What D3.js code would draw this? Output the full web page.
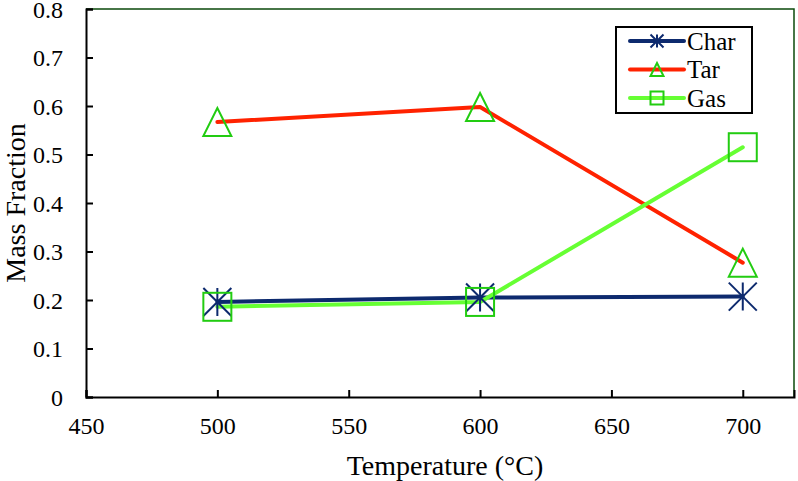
<!DOCTYPE html>
<html>
<head>
<meta charset="utf-8">
<script src="https://cdn.jsdelivr.net/npm/d3@7"></script>
<style>
  body { margin: 0; background: #fff; }
</style>
</head>
<body>
<svg id="chart" width="798" height="481"></svg>
<script>
const temps = [500, 600, 700];
const charVals = [0.196, 0.205, 0.207];
const tarVals = [0.567, 0.598, 0.277];
const gasVals = [0.186, 0.196, 0.515];
const xTicks = [450, 500, 550, 600, 650, 700];
const yTicks = [0, 0.1, 0.2, 0.3, 0.4, 0.5, 0.6, 0.7, 0.8];

const series = [
  { name: 'Char', values: charVals, line: '#0d2a6e', marker: 'star', mcolor: '#0d2a6e' },
  { name: 'Tar', values: tarVals, line: '#ff2200', marker: 'triangle', mcolor: '#22cc11' },
  { name: 'Gas', values: gasVals, line: '#66ff33', marker: 'square', mcolor: '#22cc11' },
];

const FONT = "'Liberation Serif', 'Times New Roman', serif";

const svg = d3.select('#chart').attr('font-family', FONT);
const plotL = 86, plotR = 794, plotT = 9, plotB = 397;

const x = d3.scaleLinear().domain([450, 719.5]).range([plotL, plotR]);
const y = d3.scaleLinear().domain([0, 0.8]).range([plotB, plotT]);

// plot frame (top/right)
svg.append('path')
  .attr('d', `M${plotL},${plotT}H${plotR}V${plotB}`)
  .attr('fill', 'none')
  .attr('stroke', '#0b4a0b')
  .attr('stroke-width', 1.5);

// axes
const yAxis = d3.axisLeft(y).tickValues(yTicks).tickSize(-7).tickPadding(23)
  .tickFormat(d => d === 0 ? '0' : d3.format('.1f')(d));
const xAxis = d3.axisBottom(x).tickValues(xTicks).tickSize(-7).tickPadding(20);

const gy = svg.append('g').attr('transform', `translate(${plotL},0)`).call(yAxis);
const gx = svg.append('g').attr('transform', `translate(0,${plotB})`).call(xAxis);
[gy, gx].forEach(g => {
  g.attr('font-family', FONT).attr('font-size', 24);
  g.select('.domain').attr('stroke', '#000').attr('stroke-width', 2);
  g.selectAll('.tick line').attr('stroke', '#000').attr('stroke-width', 2);
  g.selectAll('.tick text').attr('fill', '#000');
});
gy.selectAll('.tick text').attr('dy', '0.34em');
gx.selectAll('.tick text').attr('dy', '0.71em');

// axis titles
svg.append('text')
  .attr('x', 445).attr('y', 475)
  .attr('text-anchor', 'middle')
  .attr('font-size', 28)
  .text('Temperature (°C)');

svg.append('text')
  .attr('transform', 'translate(25,203) rotate(-90)')
  .attr('text-anchor', 'middle')
  .attr('font-size', 28)
  .text('Mass Fraction');

function drawMarker(g, type, cx, cy, s, color, sw) {
  const h = s / 2;
  if (type === 'star') {
    g.append('path')
      .attr('d', `M${cx - h},${cy - h}L${cx + h},${cy + h}M${cx - h},${cy + h}L${cx + h},${cy - h}M${cx},${cy - h}V${cy + h}`)
      .attr('stroke', color).attr('stroke-width', sw).attr('fill', 'none');
  } else if (type === 'triangle') {
    g.append('path')
      .attr('d', `M${cx},${cy - h}L${cx + h},${cy + h}L${cx - h},${cy + h}Z`)
      .attr('stroke', color).attr('stroke-width', sw).attr('fill', 'none');
  } else {
    g.append('rect')
      .attr('x', cx - h).attr('y', cy - h).attr('width', s).attr('height', s)
      .attr('stroke', color).attr('stroke-width', sw).attr('fill', 'none');
  }
}

const line = d3.line().x((d, i) => x(temps[i])).y(d => y(d));

const plot = svg.append('g');
series.forEach(s => {
  plot.append('path')
    .datum(s.values)
    .attr('d', line)
    .attr('fill', 'none')
    .attr('stroke', s.line)
    .attr('stroke-width', 4)
    .attr('stroke-linejoin', 'round')
    .attr('stroke-linecap', 'round');
});
series.forEach(s => {
  const g = plot.append('g');
  s.values.forEach((v, i) => drawMarker(g, s.marker, x(temps[i]), y(v), 28, s.mcolor, 2));
});

// legend
const leg = svg.append('g');
leg.append('rect')
  .attr('x', 616).attr('y', 27).attr('width', 136).attr('height', 86)
  .attr('fill', '#fff').attr('stroke', '#000').attr('stroke-width', 2);
series.forEach((s, i) => {
  const ly = 41 + i * 28.5;
  leg.append('line')
    .attr('x1', 630).attr('x2', 684).attr('y1', ly).attr('y2', ly)
    .attr('stroke', s.line).attr('stroke-width', 4).attr('stroke-linecap', 'round');
  drawMarker(leg, s.marker, 657, ly, 13, s.mcolor, 2);
  leg.append('text')
    .attr('x', 687).attr('y', ly).attr('dy', '0.35em')
    .attr('font-size', 25)
    .text(s.name);
});
</script>
</body>
</html>
